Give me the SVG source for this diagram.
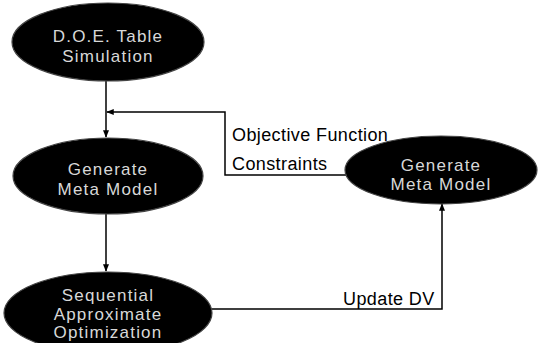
<svg xmlns="http://www.w3.org/2000/svg" width="543" height="343" viewBox="0 0 543 343">
<defs>
<style>
.node{fill:#000;stroke:#444;stroke-width:1.2}
.nt{font-family:"Liberation Sans",Arial,sans-serif;font-size:17px;fill:#d8d8d8;text-anchor:middle;letter-spacing:1.2px}
.lbl{font-family:"Liberation Sans",Arial,sans-serif;font-size:18px;fill:#000;letter-spacing:0.4px}
.edge{fill:none;stroke:#000;stroke-width:1.5}
</style>
<marker id="ah" viewBox="0 0 10 10" refX="9" refY="5" markerWidth="5" markerHeight="5" orient="auto">
<path d="M0,1 L10,5 L0,9 Z" fill="#000"/>
</marker>
</defs>
<rect width="543" height="343" fill="#fff"/>
<g id="connectors">
<path class="edge" d="M106,81 V137" marker-end="url(#ah)"/>
<path class="edge" d="M106,214 V271" marker-end="url(#ah)"/>
<path class="edge" d="M212,309 H442 V204" marker-end="url(#ah)"/>
<path class="edge" d="M346,175 H225 V112 H107" marker-end="url(#ah)"/>
<text class="lbl" x="232" y="141">Objective Function</text>
<text class="lbl" x="232" y="170">Constraints</text>
<text class="lbl" x="343" y="305">Update DV</text>
</g>
<g id="doe">
<ellipse class="node" cx="108" cy="42" rx="96" ry="39"/>
<text class="nt" x="108" y="42">D.O.E. Table</text>
<text class="nt" x="108" y="62">Simulation</text>
</g>
<g id="meta1">
<ellipse class="node" cx="108" cy="176" rx="95" ry="38"/>
<text class="nt" x="108" y="175">Generate</text>
<text class="nt" x="108" y="195">Meta Model</text>
</g>
<g id="sao">
<ellipse class="node" cx="108" cy="313" rx="104" ry="41"/>
<text class="nt" x="108" y="301">Sequential</text>
<text class="nt" x="108" y="320">Approximate</text>
<text class="nt" x="108" y="338">Optimization</text>
</g>
<g id="meta2">
<ellipse class="node" cx="441" cy="170" rx="96" ry="34"/>
<text class="nt" x="441" y="171">Generate</text>
<text class="nt" x="441" y="190">Meta Model</text>
</g>
</svg>
